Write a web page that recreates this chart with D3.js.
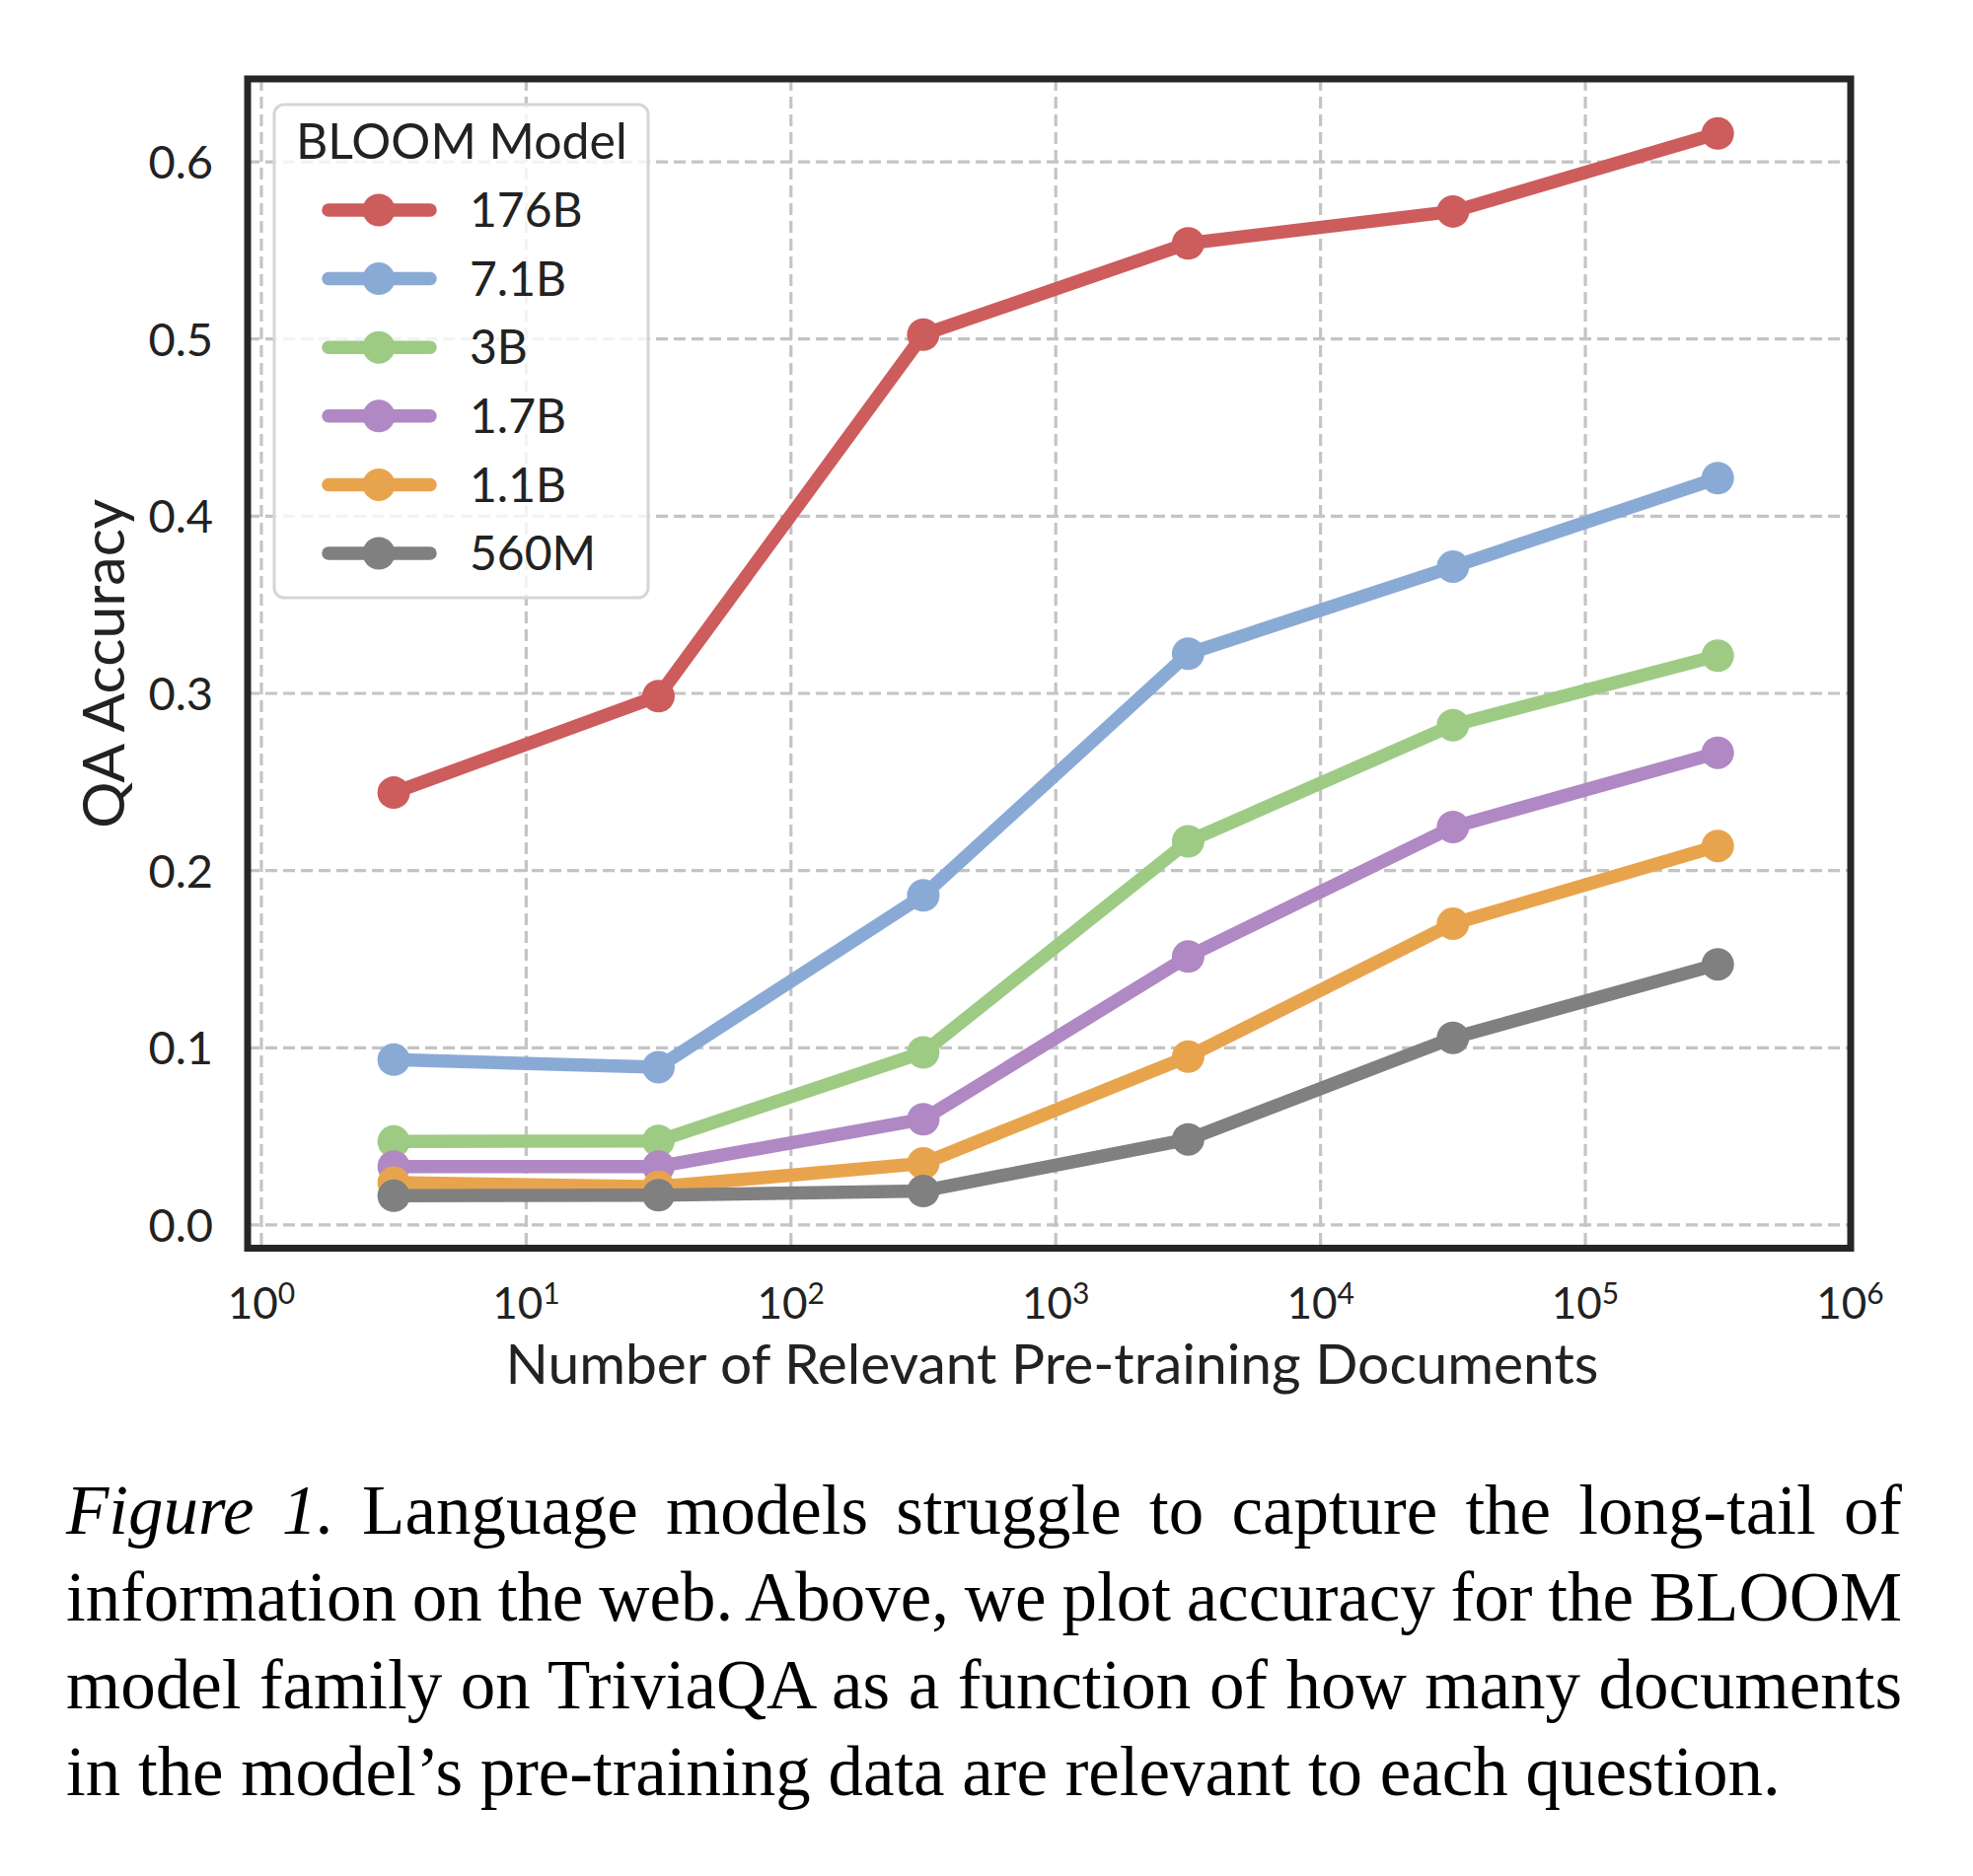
<!DOCTYPE html>
<html>
<head>
<meta charset="utf-8">
<script src="https://cdn.jsdelivr.net/npm/d3@7"></script>
<style>
  html, body { margin: 0; padding: 0; background: #fff; }
  svg { display: block; }
</style>
</head>
<body>
<svg id="chart" width="2000" height="1902"></svg>
<script>
// ---------------- data ----------------
const docs = [3.16, 31.6, 316, 3162, 31623, 316228];
const models = ["176B", "7.1B", "3B", "1.7B", "1.1B", "560M"];
const acc176B = [0.244, 0.2985, 0.5025, 0.554, 0.572, 0.616];
const acc7_1B = [0.0933, 0.0891, 0.186, 0.3224, 0.3715, 0.4215];
const acc3B   = [0.0471, 0.0475, 0.0974, 0.2165, 0.2821, 0.3213];
const acc1_7B = [0.033, 0.033, 0.0597, 0.1515, 0.2246, 0.2665];
const acc1_1B = [0.0239, 0.0215, 0.0348, 0.095, 0.170, 0.2139];
const acc560M = [0.0165, 0.0168, 0.0192, 0.0483, 0.1056, 0.1471];
const yTicks = [0.0, 0.1, 0.2, 0.3, 0.4, 0.5, 0.6];
const xTicks = [1, 10, 100, 1000, 10000, 100000, 1000000];
const xLabel = "Number of Relevant Pre-training Documents";
const yLabel = "QA Accuracy";
const legendTitle = "BLOOM Model";
const captionLines = [
  "Language models struggle to capture the long-tail of",
  "information on the web. Above, we plot accuracy for the BLOOM",
  "model family on TriviaQA as a function of how many documents",
  "in the model\u2019s pre-training data are relevant to each question."
];
const captionLead = "Figure 1.";

// ---------------- styles ----------------
const colors = ["#cd5c5c", "#8aaad6", "#9ecb84", "#b088c3", "#e8a44d", "#808080"];
const series = [acc176B, acc7_1B, acc3B, acc1_7B, acc1_1B, acc560M];
const sans = "Lato, 'Noto Sans', sans-serif";
const serif = "'Liberation Serif', 'Times New Roman', serif";

const svg = d3.select("#chart");
const L = 251, R = 1876, T = 80, B = 1265.5;

const x = d3.scaleLog().domain([Math.pow(10, -0.052), Math.pow(10, 6.002)]).range([L, R]);
const y = d3.scaleLinear().domain([-0.0131, 0.6468]).range([B, T]);

// grid
const grid = svg.append("g").attr("stroke", "#c4c4c4").attr("stroke-width", 3.2)
  .attr("stroke-dasharray", "12,6").attr("fill", "none");
grid.selectAll(".hg").data(yTicks).enter().append("line")
  .attr("x1", L).attr("x2", R).attr("y1", d => y(d)).attr("y2", d => y(d));
grid.selectAll(".vg").data(xTicks).enter().append("line")
  .attr("y1", T).attr("y2", B).attr("x1", d => x(d)).attr("x2", d => x(d));

// lines + markers
const line = d3.line().x(d => x(d[0])).y(d => y(d[1]));
series.forEach((vals, i) => {
  const pts = docs.map((d, j) => [d, vals[j]]);
  const g = svg.append("g");
  g.append("path").datum(pts).attr("d", line).attr("fill", "none")
    .attr("stroke", colors[i]).attr("stroke-width", 13.5)
    .attr("stroke-linejoin", "round").attr("stroke-linecap", "round");
  g.selectAll("circle").data(pts).enter().append("circle")
    .attr("cx", d => x(d[0])).attr("cy", d => y(d[1])).attr("r", 16.5)
    .attr("fill", colors[i]);
});

// frame
svg.append("rect").attr("x", L).attr("y", T).attr("width", R - L).attr("height", B - T)
  .attr("fill", "none").attr("stroke", "#262626").attr("stroke-width", 7);

// y tick labels
svg.append("g").selectAll("text").data(yTicks).enter().append("text")
  .attr("x", 216).attr("y", d => y(d)).attr("dy", "0.36em")
  .attr("text-anchor", "end").attr("font-family", sans).attr("font-size", 47)
  .attr("fill", "#222").text(d => d.toFixed(1));

// x tick labels 10^n
const xt = svg.append("g").selectAll("text").data(xTicks).enter().append("text")
  .attr("x", d => x(d)).attr("y", 1337).attr("text-anchor", "middle")
  .attr("font-family", sans).attr("font-size", 44).attr("fill", "#222");
xt.append("tspan").text("10");
xt.append("tspan").attr("dy", -15).attr("font-size", 30).text(d => Math.round(Math.log10(d)));

// axis labels
svg.append("text").attr("x", (L + R) / 2 + 3).attr("y", 1403).attr("text-anchor", "middle")
  .attr("font-family", sans).attr("font-size", 57).attr("fill", "#222").text(xLabel)
  .attr("textLength", 1108).attr("lengthAdjust", "spacingAndGlyphs");
svg.append("text").attr("transform", `translate(126,${(T + B) / 2}) rotate(-90)`)
  .attr("text-anchor", "middle").attr("font-family", sans).attr("font-size", 59)
  .attr("fill", "#222").text(yLabel);

// legend
const lg = svg.append("g");
lg.append("rect").attr("x", 278).attr("y", 106).attr("width", 379).attr("height", 500)
  .attr("rx", 10).attr("fill", "rgba(255,255,255,0.8)").attr("stroke", "#d6d6d6").attr("stroke-width", 3);
lg.append("text").attr("x", 300).attr("y", 161).attr("font-family", sans).attr("font-size", 50)
  .attr("fill", "#222").text(legendTitle);
const ly = d3.scaleLinear().domain([0, 5]).range([213, 561]);
models.forEach((m, i) => {
  lg.append("line").attr("x1", 333).attr("x2", 436).attr("y1", ly(i)).attr("y2", ly(i))
    .attr("stroke", colors[i]).attr("stroke-width", 13.5).attr("stroke-linecap", "round");
  lg.append("circle").attr("cx", 384).attr("cy", ly(i)).attr("r", 16.5).attr("fill", colors[i]);
  lg.append("text").attr("x", 476).attr("y", ly(i)).attr("dy", "0.36em")
    .attr("font-family", sans).attr("font-size", 48).attr("fill", "#222").text(m);
});

// caption
const capX0 = 67, capX1 = 1928, lastEnd = 1805;
const baselines = [1555, 1643, 1732, 1820];
// size the font so the (unjustified) last line ends where it does in the figure
const probe = svg.append("text").attr("font-family", serif).attr("font-size", 64)
  .text(captionLines[captionLines.length - 1]);
const capSize = 64 * (lastEnd - capX0) / probe.node().getComputedTextLength();
probe.remove();
captionLines.forEach((ln, i) => {
  const t = svg.append("text").attr("x", capX0).attr("y", baselines[i])
    .attr("font-family", serif).attr("font-size", capSize).attr("fill", "#000");
  if (i === 0) {
    t.append("tspan").attr("font-style", "italic").text(captionLead);
    t.append("tspan").text(" " + ln);
  } else {
    t.text(ln);
  }
  if (i < captionLines.length - 1) {
    const full = (i === 0 ? captionLead + " " : "") + ln;
    const spaces = (full.match(/ /g) || []).length;
    const w = t.node().getComputedTextLength();
    const extra = (capX1 - capX0 - w) / spaces;
    t.attr("word-spacing", extra);
  }
});
</script>
</body>
</html>
